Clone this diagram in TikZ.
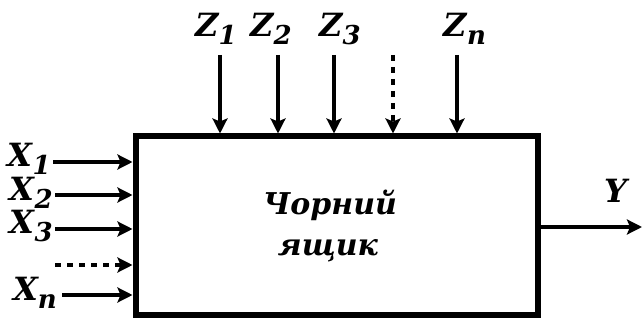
\documentclass[tikz,border=0pt]{standalone}
\usepackage{fontspec}
\setmainfont{DejaVu Serif}
\usetikzlibrary{arrows.meta}
\newcommand{\sig}[2]{#1\raisebox{-8pt}{\fontsize{26}{26}\selectfont #2}}
\tikzset{
  lbl/.style={font=\fontsize{32}{32}\selectfont\bfseries\itshape, inner sep=0pt},
  inscr/.style={font=\fontsize{30}{30}\selectfont\bfseries\itshape, inner sep=0pt, anchor=base},
  sig/.style={line width=4.5pt, -{Stealth[length=15pt,width=15pt,inset=3pt]}},
  dots/.style={sig, dash pattern=on 6pt off 6pt},
}
\begin{document}
\begin{tikzpicture}[x=1pt,y=-1pt]
  \useasboundingbox (0,0) rectangle (642,320);
  % --- Black box ---
  \node[draw, line width=6pt, minimum width=402pt, minimum height=178pt, inner sep=0pt]
    (box) at (336.5,225.5) {};
  \node[inscr] (t1) at (330,215) {Чорний};
  \node[inscr] (t2) at (328,255) {ящик};
  % --- Inputs X ---
  \coordinate (x1) at (53,162);
  \coordinate (x2) at (55,195);
  \coordinate (x3) at (55,229);
  \coordinate (xd) at (55,265);
  \coordinate (xn) at (62,295);
  \node[lbl, anchor=base east] (lx1) at (51,167) {\sig{X}{1}};
  \node[lbl, anchor=base east] (lx2) at (53,201) {\sig{X}{2}};
  \node[lbl, anchor=base east] (lx3) at (53,234) {\sig{X}{3}};
  \node[lbl, anchor=base east] (lxn) at (57,300) {\sig{X}{n}};
  \draw[sig] (x1) -- (x1 -| box.west);
  \draw[sig] (x2) -- (x2 -| box.west);
  \draw[sig] (x3) -- (x3 -| box.west);
  \draw[dots] (xd) -- (xd -| box.west);
  \draw[sig] (xn) -- (xn -| box.west);
  % --- Disturbances Z ---
  \coordinate (z1) at (220,55);
  \coordinate (z2) at (278,55);
  \coordinate (z3) at (334,55);
  \coordinate (zd) at (393,55);
  \coordinate (zn) at (457,55);
  \node[lbl, anchor=base] (lz1) at (216,37) {\sig{Z}{1}};
  \node[lbl, anchor=base] (lz2) at (271,37) {\sig{Z}{2}};
  \node[lbl, anchor=base] (lz3) at (340,37) {\sig{Z}{3}};
  \node[lbl, anchor=base] (lzn) at (465,37) {\sig{Z}{n}};
  \draw[sig] (z1) -- (z1 |- box.north);
  \draw[sig] (z2) -- (z2 |- box.north);
  \draw[sig] (z3) -- (z3 |- box.north);
  \draw[dots] (zd) -- (zd |- box.north);
  \draw[sig] (zn) -- (zn |- box.north);
  % --- Output Y ---
  \coordinate (yo) at (642,227);
  \node[lbl, anchor=base] (ly) at (616,203) {Y};
  \draw[sig] (yo -| box.east) -- (yo);
\end{tikzpicture}
\end{document}
